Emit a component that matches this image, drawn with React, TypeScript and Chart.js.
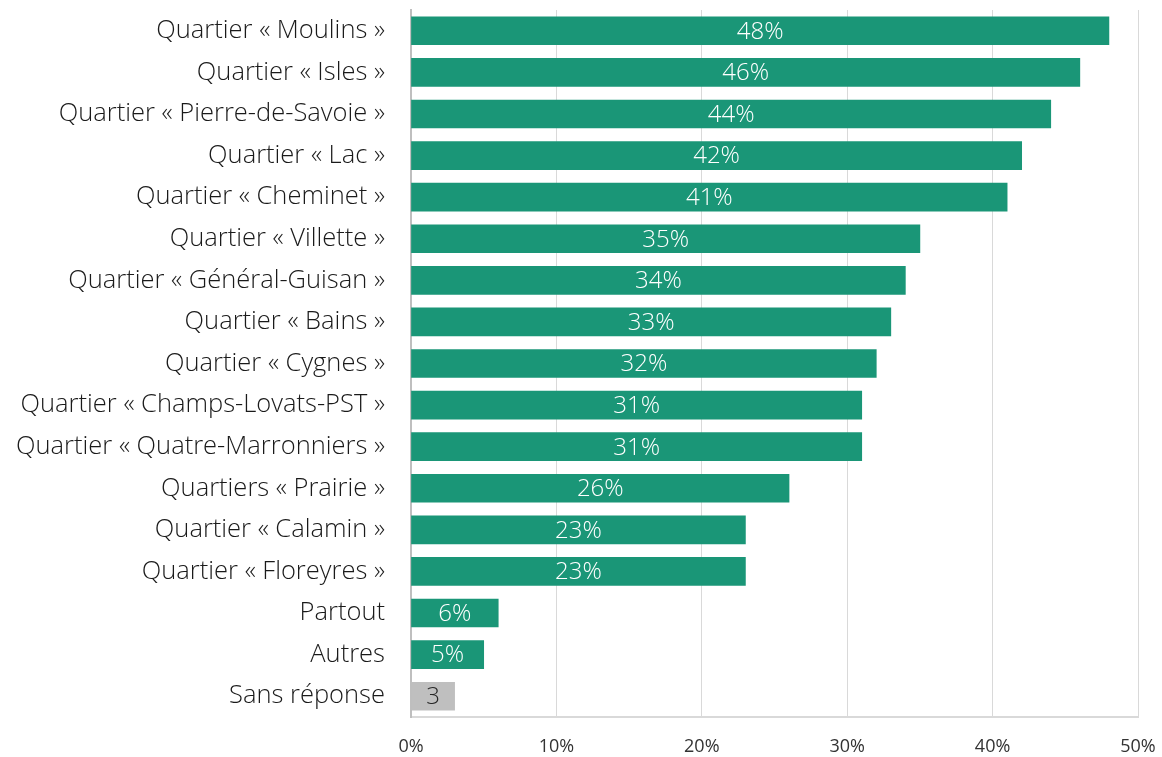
import React, { useEffect, useRef } from "react";
import { Chart, registerables } from "chart.js";

Chart.register(...registerables);

const categories: string[] = [
  "Quartier « Moulins »",
  "Quartier « Isles »",
  "Quartier « Pierre-de-Savoie »",
  "Quartier « Lac »",
  "Quartier « Cheminet »",
  "Quartier « Villette »",
  "Quartier « Général-Guisan »",
  "Quartier « Bains »",
  "Quartier « Cygnes »",
  "Quartier « Champs-Lovats-PST »",
  "Quartier « Quatre-Marronniers »",
  "Quartiers « Prairie »",
  "Quartier « Calamin »",
  "Quartier « Floreyres »",
  "Partout",
  "Autres",
  "Sans réponse",
];

const values: number[] = [48, 46, 44, 42, 41, 35, 34, 33, 32, 31, 31, 26, 23, 23, 6, 5, 3];

// The last category ("Sans réponse") is shown in grey with a plain number label
const valueLabels: string[] = [
  "48%", "46%", "44%", "42%", "41%", "35%", "34%", "33%", "32%",
  "31%", "31%", "26%", "23%", "23%", "6%", "5%", "3",
];

const xTicks: number[] = [0, 10, 20, 30, 40, 50];

const GREEN = "#1a9677";
const GREY = "#bfbfbf";
const FONT = "'Open Sans', Lato, sans-serif";

const barLabelPlugin = {
  id: "barLabels",
  afterDatasetsDraw(chart: any) {
    const ctx = chart.ctx;
    const meta = chart.getDatasetMeta(0);
    ctx.save();
    ctx.font = `300 24px ${FONT}`;
    ctx.textAlign = "center";
    ctx.textBaseline = "middle";
    meta.data.forEach((el: any, i: number) => {
      const cx = (el.x + el.base) / 2;
      ctx.fillStyle = i === categories.length - 1 ? "#262626" : "#ffffff";
      ctx.fillText(valueLabels[i], cx, el.y + 1);
    });
    ctx.restore();
  },
};

export default function App() {
  const canvasRef = useRef<HTMLCanvasElement | null>(null);

  useEffect(() => {
    document.body.style.margin = "0";
    const canvas = canvasRef.current;
    if (!canvas) return;
    const chart = new Chart(canvas, {
      type: "bar",
      data: {
        labels: categories,
        datasets: [
          {
            data: values,
            backgroundColor: values.map((_, i) => (i === values.length - 1 ? GREY : GREEN)),
            borderWidth: 0,
            barThickness: 28,
          },
        ],
      },
      options: {
        indexAxis: "y",
        animation: false,
        responsive: false,
        maintainAspectRatio: false,
        layout: { padding: { top: 10, right: 24, left: 0, bottom: 0 } },
        plugins: {
          legend: { display: false },
          tooltip: { enabled: false },
        },
        scales: {
          x: {
            min: 0,
            max: 50,
            afterBuildTicks: (scale: any) => {
              scale.ticks = xTicks.map((v) => ({ value: v }));
            },
            afterFit: (scale: any) => {
              scale.height = 40;
              scale.paddingLeft = 0;
              scale.paddingRight = 0;
            },
            ticks: {
              callback: (v: any) => `${v}%`,
              font: { family: FONT, size: 18, weight: "400" },
              color: "#333333",
              padding: 19,
              maxRotation: 0,
            },
            grid: { color: "#d9d9d9", lineWidth: 1, drawTicks: false },
            border: { display: true, color: "#d9d9d9", width: 2 },
          },
          y: {
            afterFit: (scale: any) => {
              scale.width = 411;
              scale.paddingTop = 0;
              scale.paddingBottom = 0;
            },
            ticks: {
              font: { family: FONT, size: 25.5, weight: "300" },
              color: "#1a1a1a",
              padding: 26,
            },
            grid: { display: false, drawTicks: false },
            border: { display: true, color: "#bfbfbf", width: 2 },
          },
        },
      },
      plugins: [barLabelPlugin],
    });
    return () => chart.destroy();
  }, []);

  return (
    <div style={{ position: "relative", width: 1162, height: 757 }}>
      <canvas ref={canvasRef} width={1162} height={757} />
    </div>
  );
}
